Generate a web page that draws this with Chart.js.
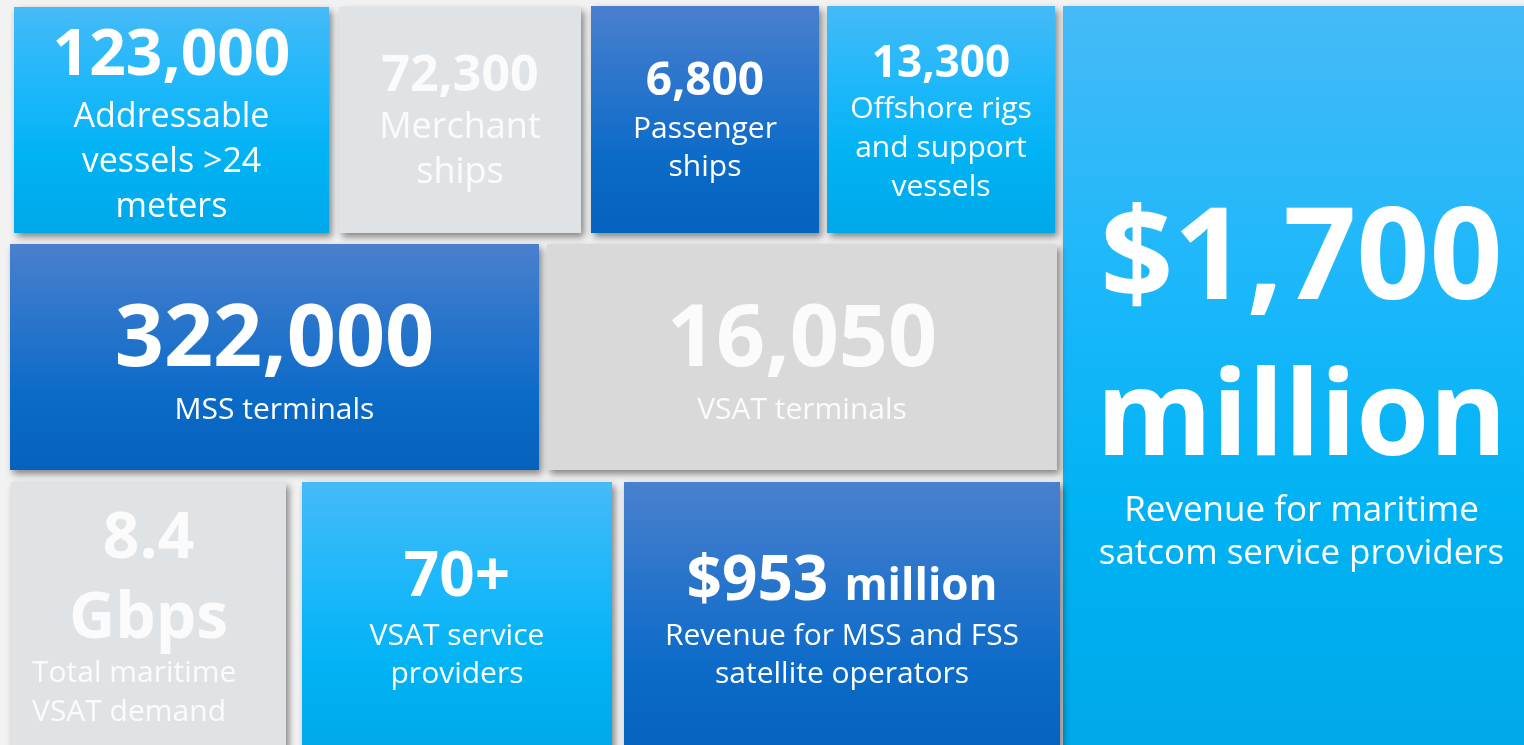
<!DOCTYPE html>
<html>
<head>
<meta charset="utf-8">
<script src="https://cdn.jsdelivr.net/npm/chart.js@4/dist/chart.umd.min.js"></script>
<style>
  html, body { margin: 0; padding: 0; background: #f2f2f2; }
  canvas { display: block; }
</style>
</head>
<body>
<canvas id="tiles" width="1524" height="745"></canvas>
<script>
// --- figures shown on the tiles ---
const tileValues   = [123000, 72300, 6800, 13300, 1700, 322000, 16050, 8.4, 70, 953];
const tilePrefixes = ['', '', '', '', '$', '', '', '', '', '$'];
const tileSuffixes = ['', '', '', '', '', '', '', '', '+', ''];
const tileUnits    = ['', '', '', '', 'million', '', '', 'Gbps', '', 'million'];
const tileCaptions = [
  ['Addressable', 'vessels >24', 'meters'],
  ['Merchant', 'ships'],
  ['Passenger', 'ships'],
  ['Offshore rigs', 'and support', 'vessels'],
  ['Revenue for maritime', 'satcom service providers'],
  ['MSS terminals'],
  ['VSAT terminals'],
  ['Total maritime', 'VSAT demand'],
  ['VSAT service', 'providers'],
  ['Revenue for MSS and FSS', 'satellite operators']
];
const tileThemes = ['light', 'grey', 'dark', 'light', 'light', 'dark', 'grey2', 'grey', 'light', 'dark'];

// --- layout (in the 1524 x 745 grid units of the axes) ---
// box: [x0, y0, x1, y1], head: [centerY, size], unit: [centerY or 'inline', size],
// cap: [firstY, lineH, size, leftX (optional, left aligned)]
const tileLayout = [
  { box: [14, 7, 329, 233],     head: [57, 64],   unit: null,           cap: [117, 45, 34] },
  { box: [339, 7, 581, 233],    head: [77, 50],   unit: null,           cap: [128, 45, 36] },
  { box: [591, 6, 819, 233],    head: [82, 46],   unit: null,           cap: [129, 38, 30] },
  { box: [827, 6, 1055, 233],   head: [64, 44],   unit: null,           cap: [109, 39, 30] },
  { box: [1063, 6, 1540, 760],  head: [263, 128], unit: [421, 118],     cap: [511, 43, 35] },
  { box: [10, 244, 539, 470],   head: [341, 86],  unit: null,           cap: [410, 40, 30] },
  { box: [547, 244, 1057, 470], head: [341, 86],  unit: null,           cap: [410, 40, 30] },
  { box: [11, 482, 286, 760],   head: [540, 64],  unit: [620, 64],      cap: [673, 39, 30, 32] },
  { box: [302, 482, 612, 760],  head: [578, 62],  unit: null,           cap: [636, 38, 30] },
  { box: [624, 482, 1060, 760], head: [578, 62],  unit: ['inline', 44], cap: [636, 38, 30] }
];

const themes = {
  light: { stops: ['#46baf7', '#1fb8fb', '#00b3f4', '#00a8e8'], text: '#ffffff' },
  dark:  { stops: ['#4a80cd', '#2a75cc', '#0c6bc8', '#0562bd'], text: '#ffffff' },
  grey:  { stops: ['#e0e3e6', '#e0e3e6'], text: '#fbfbfb' },
  grey2: { stops: ['#d9d9d9', '#d9d9d9'], text: '#fbfbfb' }
};

const FONT = '"Open Sans", "Noto Sans", sans-serif';

function headText(i) {
  const v = tileValues[i].toLocaleString('en-US');
  return tilePrefixes[i] + v + tileSuffixes[i];
}

const tilePlugin = {
  id: 'tiles',
  beforeDatasetsDraw(chart) {
    const ctx = chart.ctx;
    const xs = chart.scales.x;
    const ys = chart.scales.y;
    const px = v => xs.getPixelForValue(v);
    const py = v => ys.getPixelForValue(v);

    // tiles with drop shadow
    tileLayout.forEach((t, i) => {
      const [x0, y0, x1, y1] = t.box;
      const L = px(x0), R = px(x1), T = py(y0), B = py(y1);
      const theme = themes[tileThemes[i]];
      ctx.save();
      ctx.shadowColor = 'rgba(0,0,0,0.45)';
      ctx.shadowBlur = 7;
      ctx.shadowOffsetX = 3;
      ctx.shadowOffsetY = 4;
      const g = ctx.createLinearGradient(0, T, 0, B);
      theme.stops.forEach((c, k) => g.addColorStop(k / (theme.stops.length - 1), c));
      ctx.fillStyle = g;
      ctx.fillRect(L, T, R - L, B - T);
      ctx.restore();
    });

    // texts
    tileLayout.forEach((t, i) => {
      const [x0, , x1] = t.box;
      const cx = px((x0 + x1) / 2);
      ctx.save();
      ctx.fillStyle = themes[tileThemes[i]].text;
      ctx.textAlign = 'center';
      ctx.textBaseline = 'middle';

      const head = headText(i);
      const [hy, hs] = t.head;
      if (t.unit && t.unit[0] === 'inline') {
        // value and unit on one line, unit smaller
        ctx.font = 'bold ' + hs + 'px ' + FONT;
        const w1 = ctx.measureText(head + ' ').width;
        ctx.font = 'bold ' + t.unit[1] + 'px ' + FONT;
        const w2 = ctx.measureText(tileUnits[i]).width;
        const start = cx - (w1 + w2) / 2;
        ctx.textAlign = 'left';
        ctx.textBaseline = 'alphabetic';
        const base = py(hy) + hs * 0.36;
        ctx.font = 'bold ' + hs + 'px ' + FONT;
        ctx.fillText(head, start, base);
        ctx.font = 'bold ' + t.unit[1] + 'px ' + FONT;
        ctx.fillText(tileUnits[i], start + w1, base);
        ctx.textAlign = 'center';
        ctx.textBaseline = 'middle';
      } else {
        ctx.font = 'bold ' + hs + 'px ' + FONT;
        ctx.fillText(head, cx, py(hy));
        if (t.unit) {
          ctx.font = 'bold ' + t.unit[1] + 'px ' + FONT;
          ctx.fillText(tileUnits[i], cx, py(t.unit[0]));
        }
      }

      const [cy, lh, cs, leftX] = t.cap;
      ctx.font = cs + 'px ' + FONT;
      let tx = cx;
      if (leftX !== undefined) {
        ctx.textAlign = 'left';
        tx = px(leftX);
      }
      tileCaptions[i].forEach((line, k) => {
        ctx.fillText(line, tx, py(cy + k * lh));
      });
      ctx.restore();
    });
  }
};

new Chart(document.getElementById('tiles'), {
  type: 'scatter',
  data: {
    datasets: [{
      data: tileLayout.map(t => ({ x: (t.box[0] + t.box[2]) / 2, y: (t.box[1] + t.box[3]) / 2 })),
      pointRadius: 0
    }]
  },
  options: {
    responsive: false,
    devicePixelRatio: 1,
    animation: false,
    layout: { padding: 0 },
    plugins: { legend: { display: false }, tooltip: { enabled: false } },
    scales: {
      x: { type: 'linear', min: 0, max: 1524, display: false },
      y: { type: 'linear', min: 0, max: 745, reverse: true, display: false }
    }
  },
  plugins: [tilePlugin]
});
</script>
</body>
</html>
